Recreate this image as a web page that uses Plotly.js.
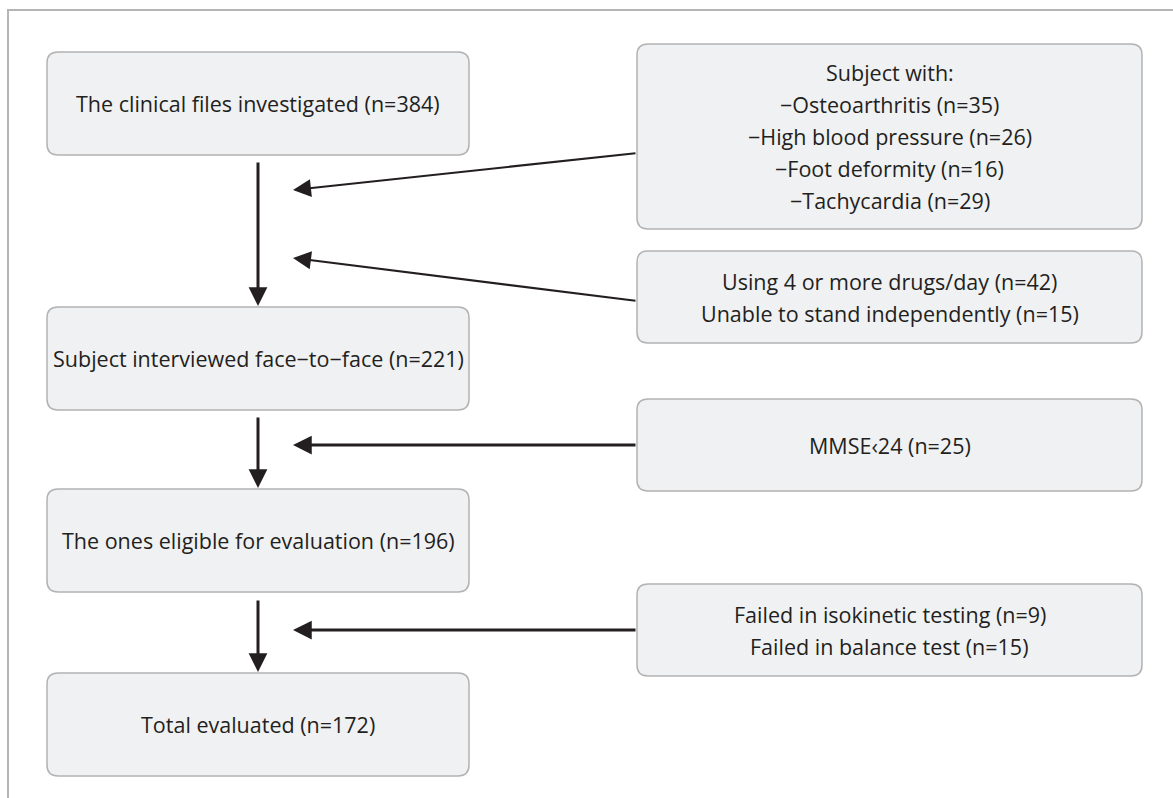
<!DOCTYPE html>
<html>
<head>
<meta charset="utf-8">
<script src="https://cdn.plot.ly/plotly-3.0.1.min.js"></script>
<style>html,body{margin:0;padding:0;background:#fff;}#chart{width:1173px;height:798px;}</style>
</head>
<body>
<div id="chart"></div>
<script>
// ---- Data (flow stages and exclusions) ----
var mainLabels = [
  "The clinical files investigated (n=384)",
  "Subject interviewed face\u2212to\u2212face (n=221)",
  "The ones eligible for evaluation (n=196)",
  "Total evaluated (n=172)"
];
var exclusionLines = [
  ["Subject with:", "\u2212Osteoarthritis (n=35)", "\u2212High blood pressure (n=26)", "\u2212Foot deformity (n=16)", "\u2212Tachycardia (n=29)"],
  ["Using 4 or more drugs/day (n=42)", "Unable to stand independently (n=15)"],
  ["MMSE\u203924 (n=25)"],
  ["Failed in isokinetic testing (n=9)", "Failed in balance test (n=15)"]
];

// ---- Layout geometry (pixels in a 1173x798 canvas) ----
var mainBoxes = [[47,52,469,155],[47,307,469,410],[47,489,469,592],[47,673,469,776]];
var sideBoxes = [[637,44,1142,229],[637,251,1142,343],[637,399,1142,491],[637,584,1142,676]];
var lineGap = 32;
var FONT = {family: "Open Sans, sans-serif", size: 21.5, color: "#231f20"};

function roundRect(b, r) {
  var x0=b[0], y0=b[1], x1=b[2], y1=b[3];
  return "M"+(x0+r)+","+y0+" L"+(x1-r)+","+y0+" Q"+x1+","+y0+" "+x1+","+(y0+r)+
         " L"+x1+","+(y1-r)+" Q"+x1+","+y1+" "+(x1-r)+","+y1+
         " L"+(x0+r)+","+y1+" Q"+x0+","+y1+" "+x0+","+(y1-r)+
         " L"+x0+","+(y0+r)+" Q"+x0+","+y0+" "+(x0+r)+","+y0+" Z";
}

var shapes = [{type:"rect", xref:"x", yref:"y", x0:8, y0:10, x1:1200, y1:820,
               line:{color:"#b5b5b5", width:2}, fillcolor:"rgba(0,0,0,0)", layer:"below"}];
var annotations = [];

mainBoxes.forEach(function(b, i) {
  shapes.push({type:"path", path: roundRect(b, 11), xref:"x", yref:"y",
               fillcolor:"#f0f1f3", line:{color:"#b3b3b3", width:1.5}, layer:"below"});
  annotations.push({x:(b[0]+b[2])/2, y:(b[1]+b[3])/2, xref:"x", yref:"y", text: mainLabels[i],
                    showarrow:false, font: FONT, xanchor:"center", yanchor:"middle"});
});
sideBoxes.forEach(function(b, i) {
  shapes.push({type:"path", path: roundRect(b, 11), xref:"x", yref:"y",
               fillcolor:"#f0f1f3", line:{color:"#b3b3b3", width:1.5}, layer:"below"});
  var lines = exclusionLines[i];
  var cy = (b[1]+b[3])/2;
  var start = cy - (lines.length-1)*lineGap/2;
  lines.forEach(function(t, k) {
    annotations.push({x:(b[0]+b[2])/2, y:start + k*lineGap, xref:"x", yref:"y", text:t,
                      showarrow:false, font: FONT, xanchor:"center", yanchor:"middle"});
  });
});

// arrows: [tailX, tailY, headX, headY, width]
var arrows = [
  [258,161,258,306,3],[258,416,258,488,3],[258,599,258,672,3],
  [637,153,293,190,2],[637,301,293,258,2],[637,445,293,445,3],[637,630,293,630,3]
];
arrows.forEach(function(a) {
  annotations.push({x:a[2], y:a[3], ax:a[0], ay:a[1], xref:"x", yref:"y", axref:"x", ayref:"y",
                    text:"", showarrow:true, arrowhead:2, arrowsize: a[4]===3 ? 1.25 : 1.8,
                    arrowwidth:a[4], arrowcolor:"#231f20", standoff:0, startstandoff:0});
});

var layout = {
  width:1173, height:798, margin:{l:0,r:0,t:0,b:0},
  paper_bgcolor:"#ffffff", plot_bgcolor:"#ffffff",
  xaxis:{range:[0,1173], visible:false, fixedrange:true},
  yaxis:{range:[798,0], visible:false, fixedrange:true},
  shapes: shapes, annotations: annotations, showlegend:false
};
Plotly.newPlot("chart", [], layout, {staticPlot:true, displayModeBar:false});
</script>
</body>
</html>
